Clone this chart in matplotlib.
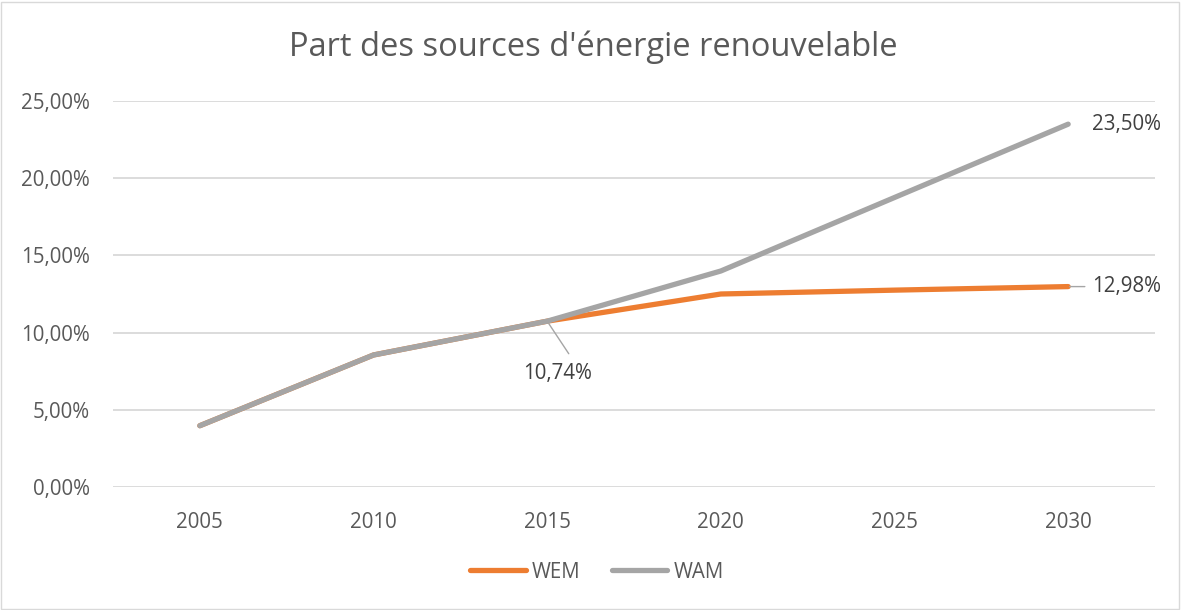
import matplotlib.pyplot as plt
from matplotlib.patches import Rectangle

years = ["2005", "2010", "2015", "2020", "2025", "2030"]
wem = [3.97, 8.55, 10.74, 12.50, 12.75, 12.98]
wam = [3.97, 8.55, 10.74, 13.99, 18.75, 23.50]
yticks = [0, 5, 10, 15, 20, 25]

plt.rcParams['font.family'] = ['Open Sans', 'DejaVu Sans']
fs = 14.8

fig = plt.figure(figsize=(11.81, 6.10), dpi=100)
ax = fig.add_axes([113 / 1181, 1 - 487 / 610, 1042 / 1181, 386 / 610])

x = list(range(len(years)))
ax.plot(x, wem, color="#ED7D31", lw=3.8, solid_capstyle="round", label="WEM", zorder=3)
ax.plot(x, wam, color="#A5A5A5", lw=3.8, solid_capstyle="round", label="WAM", zorder=4)

ax.set_xlim(-0.5, 5.5)
ax.set_ylim(0, 25)
ax.set_xticks(x)
ax.set_xticklabels(years)
ax.set_yticks(yticks)
ax.set_yticklabels([f"{v:.2f}%".replace(".", ",") for v in yticks])
ax.grid(axis="y", color="#d9d9d9", lw=1.3)
ax.set_axisbelow(True)
for s in ax.spines.values():
    s.set_visible(False)
ax.tick_params(length=0, labelsize=fs, colors="#595959")
ax.tick_params(axis="y", pad=16.5)
ax.tick_params(axis="x", pad=18)

# data labels
lab_col = "#404040"
ax.annotate(f"{wam[5]:.2f}%".replace(".", ","), (x[5], wam[5]), xytext=(17, 0),
            textcoords="offset points", ha="left", va="center", fontsize=fs, color=lab_col)
ax.annotate(f"{wem[5]:.2f}%".replace(".", ","), (x[5], wem[5]), xytext=(17, 0),
            textcoords="offset points", ha="left", va="center", fontsize=fs, color=lab_col,
            arrowprops=dict(arrowstyle="-", color="#A5A5A5", lw=1, shrinkA=3, shrinkB=1,
                            relpos=(0, 0.5)))
ax.annotate(f"{wem[2]:.2f}%".replace(".", ","), (x[2], wem[2]), xytext=(-17, -38),
            textcoords="offset points", ha="left", va="center", fontsize=fs, color=lab_col,
            arrowprops=dict(arrowstyle="-", color="#A5A5A5", lw=1, shrinkA=6, shrinkB=0,
                            relpos=(0.75, 1)))

fig.text(593 / 1181, 1 - 47 / 610, "Part des sources d'énergie renouvelable",
         ha="center", va="center", fontsize=23.5, color="#595959")

fig.legend(loc="center", bbox_to_anchor=(597 / 1181, 1 - 572 / 610), ncol=2, frameon=False,
           fontsize=fs, labelcolor="#595959", handlelength=2.7, handletextpad=0.3,
           columnspacing=1.5)

fig.patches.append(Rectangle((1 / 1181, 1 / 610), 1 - 3 / 1181, 1 - 3 / 610,
                             transform=fig.transFigure, fill=False, ec="#d9d9d9", lw=1))

fig.savefig("out.png", dpi=100)
